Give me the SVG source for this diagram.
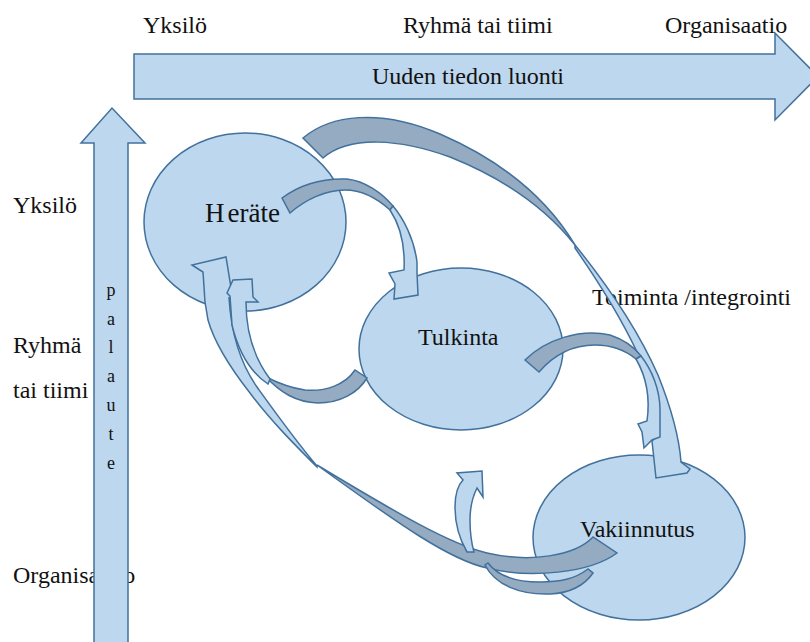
<svg xmlns="http://www.w3.org/2000/svg" width="810" height="642" viewBox="0 0 810 642">
  <style>
    .lt { fill: #BDD7EE; stroke: #41719C; stroke-width: 1.5; stroke-linejoin: miter; }
    .dk { fill: #95ABC2; stroke: #41719C; stroke-width: 1.5; stroke-linejoin: miter; }
    text { font-family: "Liberation Serif", "Times New Roman", serif; fill: #111; }
    .lbl { font-size: 24px; }
    .node { font-size: 24px; }
    .fb { font-size: 18px; text-anchor: middle; }
  </style>
  <rect width="810" height="642" fill="#fff"/>

  <!-- axis labels (left side) -->
  <g id="axis-left-labels">
    <text class="lbl" x="13" y="213">Yksilö</text>
    <text class="lbl" x="13" y="353">Ryhmä</text>
    <text class="lbl" x="13" y="398">tai tiimi</text>
    <text class="lbl" x="13" y="583">Organisaatio</text>
  </g>

  <!-- horizontal axis: knowledge creation -->
  <g id="axis-top">
    <path class="lt" d="M134,54 L775,54 L775,33 L818,76.5 L775,120 L775,99 L134,99 Z"/>
    <text class="lbl" x="372" y="84">Uuden tiedon luonti</text>
  </g>
  <g id="axis-top-labels">
    <text class="lbl" x="143" y="33">Yksilö</text>
    <text class="lbl" x="403" y="33">Ryhmä tai tiimi</text>
    <text class="lbl" x="665" y="33">Organisaatio</text>
  </g>

  <!-- vertical axis: feedback -->
  <g id="axis-feedback">
    <path class="lt" d="M94,660 L94,143 L81,143 L112,108 L145,143 L128,143 L128,660 Z"/>
    <text class="fb" x="111" y="296">p</text>
    <text class="fb" x="111" y="325">a</text>
    <text class="fb" x="111" y="353">l</text>
    <text class="fb" x="111" y="382">a</text>
    <text class="fb" x="111" y="411">u</text>
    <text class="fb" x="111" y="440">t</text>
    <text class="fb" x="111" y="469">e</text>
  </g>

  <!-- process stages -->
  <g id="node-herate">
    <ellipse class="lt" cx="245" cy="222" rx="101" ry="89"/>
    <text class="node" x="205" y="222" style="font-size:27px">H<tspan dx="3">eräte</tspan></text>
  </g>
  <g id="node-tulkinta">
    <ellipse class="lt" cx="461" cy="349" rx="102" ry="81"/>
    <text class="node" x="418" y="345">Tulkinta</text>
  </g>
  <g id="node-vakiinnutus">
    <ellipse class="lt" cx="639" cy="537.5" rx="106" ry="82.5"/>
    <text class="node" x="580" y="537">Vakiinnutus</text>
  </g>

  <text id="label-toiminta" class="lbl" x="592" y="305">Toiminta /integrointi</text>

  <!-- curved arrows between the stages -->
  <g id="connectors">
    <!-- Heräte -> Tulkinta -->
    <g id="arrow-herate-tulkinta">
      <path class="dk" d="M282,198 C298,186 320,178 347,179 C365,181 382,193 393,206 L390,210 C379,200 363,190 345,190 C325,190 305,200 290,213 Z"/>
      <path class="lt" d="M393,206 C403,218 414,238 417,262 L417,273 L418,295 L394,299 L395,284 L389,273 L404,270 C405,250 402,228 390,210 Z"/>
    </g>
    <!-- Heräte -> Vakiinnutus (Toiminta / integrointi) -->
    <g id="arrow-herate-vakiinnutus">
      <path class="dk" d="M303,138 C330,115 380,108 440,134 C500,160 545,195 575,245 C545,207 500,177 450,157 C400,139 350,135 323,158 Z"/>
      <path class="lt" d="M575,245 C605,282 638,330 658,375 C670,405 679,435 681,462 L690,469 L687,473 L656,478 L652,441 L656,437 C656,410 650,380 637,352 C620,316 600,284 575,248 Z"/>
    </g>
    <!-- Tulkinta -> Vakiinnutus -->
    <g id="arrow-tulkinta-vakiinnutus">
      <path class="dk" d="M525,360 C545,340 580,328 610,335 C625,340 635,348 641,356 L636,359 C625,350 610,345 595,345 C570,345 552,357 539,372 Z"/>
      <path class="lt" d="M641,356 C652,370 660,390 660,410 L660,437 L652,440 L644,448 L642,432 L638,424 L647,421 C650,400 647,378 636,359 Z"/>
    </g>
    <!-- Vakiinnutus -> Heräte (palaute) -->
    <g id="arrow-vakiinnutus-herate">
      <path class="dk" d="M593,537 C575,556 530,563 487,553 C450,544 400,515 317,465 C400,525 450,560 487,568 C530,579 590,573 617,553 Z"/>
      <path class="lt" d="M317,467 C295,445 270,420 250,393 C232,370 215,345 208,320 L205,302 L203,272 L192,265 L226,257 L233,300 L229,298 C231,330 238,360 257,387 C275,412 295,440 317,466 Z"/>
    </g>
    <!-- Tulkinta -> Heräte -->
    <g id="arrow-tulkinta-herate">
      <path class="dk" d="M355,370 C345,385 325,392 305,390 C290,388 278,383 266,377 C280,392 295,402 318,403 C340,403 358,393 367,378 Z"/>
      <path class="lt" d="M268,384 C250,372 238,350 232,325 L230,296 L227,293 L233,280 L252,279 L253,297 L258,302 L246,302 C246,330 252,355 270,379 Z"/>
    </g>
    <!-- Vakiinnutus -> Tulkinta -->
    <g id="arrow-vakiinnutus-tulkinta">
      <path class="dk" d="M485,565 C495,585 520,595 550,594 C570,593 584,586 593,573 L588,569 C575,579 560,582 540,582 C515,582 497,575 488,563 Z"/>
      <path class="lt" d="M467,552 C460,540 455,525 455,507 C455,495 458,485 463,480 L457,473 L482,471 L483,497 L477,488 C472,498 470,510 470,520 C470,535 472,545 474,552 Z"/>
    </g>
  </g>
</svg>
